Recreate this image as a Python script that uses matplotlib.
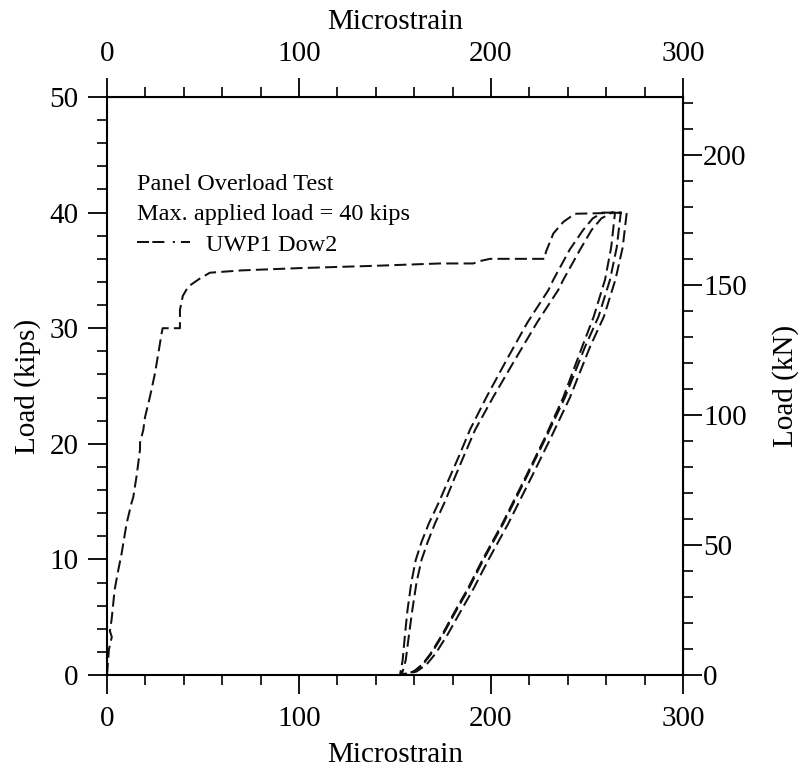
import numpy as np
import matplotlib
matplotlib.use("Agg")
import matplotlib.pyplot as plt
from matplotlib.legend_handler import HandlerLine2D
from matplotlib.lines import Line2D

plt.rcParams['font.family'] = ['Liberation Serif', 'DejaVu Serif']

# ---- data (microstrain, kips) ----
load1_x = [0, 0.3, 1.0, 2.5, 1.5, 2.4, 4.0, 5.9, 7.6, 10.2, 12.8, 13.7, 15.4, 17.2, 17.2,
           18.9, 19.8, 22.4, 25.0, 26.7, 28.5, 29.0, 38.0, 38.0, 39.5, 42.3, 48.4, 53.6,
           70.0, 100.5, 140.0, 173.4, 190.8, 194.0, 199.5, 228.0, 228.6, 232.5, 237.7,
           243.7, 270.7]
load1_y = [0, 0.7, 2.2, 3.3, 3.8, 4.8, 7.4, 9.1, 10.5, 13.1, 14.9, 15.4, 17.2, 19.5, 20.1,
           21.2, 22.3, 24.1, 26.1, 27.8, 29.6, 30.0, 30.0, 31.6, 32.8, 33.6, 34.3, 34.8,
           35.0, 35.2, 35.4, 35.6, 35.6, 35.8, 36.0, 36.0, 36.6, 38.2, 39.2, 39.9, 40.0]

unload_y = [40, 37, 34.2, 31, 28.4, 24, 20.5, 17.15, 13.1, 9.95, 7.5, 5.6, 3.5, 1.87, 0.9, 0.3, 0]
unload1_x = [270.7, 268.6, 264.8, 258.8, 251.6, 241.1, 231.1, 221.2, 209.0, 198.6, 191.0, 184.5,
             177.4, 171.2, 166.4, 161.2, 153.5]
unload2_x = [267.6, 265.5, 262.0, 256.0, 249.0, 238.5, 228.5, 218.6, 206.4, 196.0, 188.5, 182.0,
             175.0, 169.0, 164.5, 160.0, 153.0]
unload3_x = [264.6, 262.6, 259.4, 253.5, 247.5, 237.6, 228.0, 218.1, 205.9, 195.5, 188.0, 181.5,
             174.6, 168.6, 164.2, 159.7, 152.6]

reload_y = [0, 1.3, 3.5, 5.6, 8, 9.95, 11.5, 13.1, 15, 17.15, 19, 21.2, 24, 27.25, 30.5, 33.3,
            34.2, 36.8, 38.5, 39.5, 40, 40]
reload1_x = [152.6, 154.0, 155.2, 156.5, 158.5, 160.8, 163.8, 167.6, 173.0, 178.6, 183.5, 189.0,
             197.5, 208.1, 219.0, 229.9, 232.5, 241.0, 248.0, 253.0, 258.0, 267.6]
reload2_x = [153.5, 155.6, 157.3, 159.0, 161.2, 163.8, 167.0, 170.8, 176.0, 181.3, 186.0, 191.7,
             201.0, 212.4, 224.0, 235.0, 237.7, 246.4, 252.4, 257.5, 263.0, 264.6]

series_label = "UWP1 Dow2"
title_lines = ["Panel Overload Test", "Max. applied load = 40 kips"]
KN_PER_KIP = 4.44822

x_all = np.concatenate([load1_x, unload1_x, reload1_x, unload2_x, reload2_x, unload3_x])
y_all = np.concatenate([load1_y, unload_y, reload_y, unload_y, reload_y, unload_y])

fig = plt.figure(figsize=(8.03, 7.70), dpi=100)
ax = fig.add_axes([107/803, 1-675/770, 576/803, 578/770])

ax.plot(x_all, y_all, color='#111111', lw=1.45, ls=(0, (6.0, 2.6)), label=series_label)

ax.set_xlim(0, 300)
ax.set_ylim(0, 50)
ax.set_xticks([0, 100, 200, 300])
ax.set_xticks(np.arange(0, 301, 20), minor=True)
ax.set_yticks([0, 10, 20, 30, 40, 50])
ax.set_yticks(np.arange(0, 51, 2), minor=True)

fs = 21
for sp in ax.spines.values():
    sp.set_linewidth(1.5)
ax.tick_params(which='major', direction='out', length=13.5, width=1.3, labelsize=fs)
ax.tick_params(which='minor', direction='out', length=7, width=1.2)
ax.tick_params(axis='x', which='major', pad=9)
ax.tick_params(axis='y', which='major', pad=7)
ax.set_xlabel("Microstrain", fontsize=fs, labelpad=7)
ax.set_ylabel("Load (kips)", fontsize=fs, labelpad=6)

top = ax.secondary_xaxis('top')
top.set_xticks([0, 100, 200, 300])
top.set_xticks(np.arange(0, 301, 20), minor=True)
top.tick_params(which='major', direction='out', length=13.5, width=1.3, labelsize=fs, pad=8)
top.tick_params(which='minor', direction='out', length=7, width=1.2)
top.set_xlabel("Microstrain", fontsize=fs, labelpad=9)

right = ax.secondary_yaxis('right', functions=(lambda v: v * KN_PER_KIP, lambda v: v / KN_PER_KIP))
right.set_yticks([0, 50, 100, 150, 200])
right.set_yticks(np.arange(0, 221, 10), minor=True)
right.tick_params(which='major', direction='out', length=13.5, width=1.3, labelsize=fs, pad=1)
right.tick_params(which='minor', direction='out', length=7, width=1.2)
right.set_ylabel("Load (kN)", fontsize=fs, labelpad=18)

ax.text(0.052, 0.848, title_lines[0], transform=ax.transAxes, fontsize=17.5, va='center', ha='left')
ax.text(0.052, 0.796, title_lines[1], transform=ax.transAxes, fontsize=17.5, va='center', ha='left')


def legend_style(legline, orig):
    legline.update_from(orig)
    legline.set_linestyle((0, (6.0, 1.6, 6.0, 4.2, 1.0, 3)))


ax.legend(loc='center left', bbox_to_anchor=(0.052, 0.744), frameon=False, fontsize=17.5,
          handlelength=2.2, handletextpad=0.65, borderaxespad=0, borderpad=0,
          handler_map={Line2D: HandlerLine2D(update_func=legend_style)})

fig.savefig("out.png", dpi=100)
